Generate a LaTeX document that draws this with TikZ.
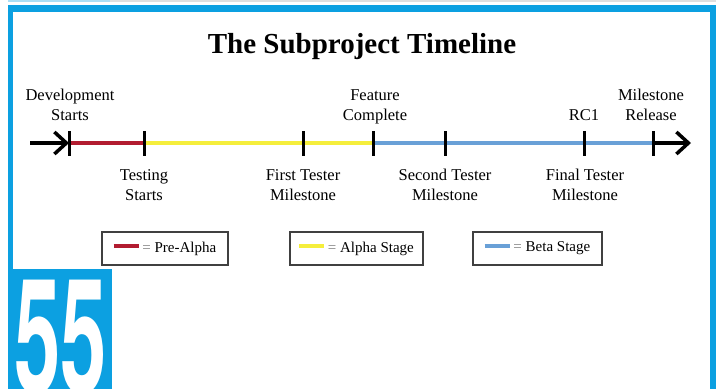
\documentclass[tikz,border=0pt]{standalone}
\usepackage{fontspec}
\setmainfont{Liberation Serif}
\newfontfamily\numfont{TeX Gyre Heros}
\usetikzlibrary{arrows.meta}
\definecolor{frameblue}{RGB}{12,160,225}
\definecolor{prered}{RGB}{178,28,48}
\definecolor{alphayellow}{RGB}{245,238,60}
\definecolor{betablue}{RGB}{105,160,215}
\begin{document}
\begin{tikzpicture}[x=1pt,y=-1pt,
  lbl/.style={align=center, font=\fontsize{16.5}{20}\selectfont, inner sep=0},
  legendbox/.style={draw=black!75, line width=1.8, minimum height=33, font=\fontsize{15}{17}\selectfont, inner sep=0},
  stage/.style={line width=4},
  tick/.style={line width=3}]
\useasboundingbox (0,0) rectangle (716,389);
\fill[frameblue!35] (8,0) rectangle (110,2);
\fill[gray!25] (110,0) rectangle (716,2);
\fill[frameblue] (8,5) rectangle (716,12);
\fill[frameblue] (8,5) rectangle (13,269);
\fill[frameblue] (710,5) rectangle (716,389);
\fill[frameblue] (8,269) rectangle (112,389);
\begin{scope}
\clip (8,269) rectangle (112,389);
\node[text=white, inner sep=0, anchor=base] (num) at (61,393) {\numfont\bfseries\fontsize{160}{160}\selectfont\scalebox{0.52}[1]{55}};
\end{scope}
\node[font=\bfseries\fontsize{29}{34}\selectfont, anchor=base] (title) at (362,53) {The Subproject Timeline};
\coordinate (tail) at (30,143);
\coordinate (devstart) at (69,143);
\coordinate (teststart) at (144,143);
\coordinate (first) at (303,143);
\coordinate (feature) at (373,143);
\coordinate (second) at (445,143);
\coordinate (rc) at (584,143);
\coordinate (release) at (653,143);
\coordinate (head) at (691,143);
\draw[stage, prered] (devstart) -- (teststart);
\draw[stage, alphayellow] (teststart) -- (feature);
\draw[stage, betablue] (feature) -- (release);
\draw[line width=3.5, -{Straight Barb[length=12pt,width=22pt]}] (tail) -- (devstart);
\draw[line width=3.5, -{Straight Barb[length=12pt,width=22pt]}] (release) -- (head);
\foreach \p in {devstart,teststart,first,feature,second,rc,release}
  \draw[tick] ([yshift=12pt]\p) -- ([yshift=-13pt]\p);
\node[lbl, anchor=south] (devlbl) at (70,127) {Development\\Starts\strut};
\node[lbl, anchor=south] (featlbl) at (375,127) {Feature\\Complete\strut};
\node[lbl, anchor=south] (rclbl) at (584,127) {RC1\strut};
\node[lbl, anchor=south] (rellbl) at (651,127) {Milestone\\Release\strut};
\node[lbl, anchor=north] (testlbl) at (144,169) {Testing\\Starts};
\node[lbl, anchor=north] (firstlbl) at (303,169) {First Tester\\Milestone};
\node[lbl, anchor=north] (secondlbl) at (445,169) {Second Tester\\Milestone};
\node[lbl, anchor=north] (finallbl) at (585,169) {Final Tester\\Milestone};
\node[legendbox, minimum width=126] (prebox) at (165,248.5) {\textcolor{prered}{\rule[4pt]{25pt}{4pt}} {\color{gray}=} Pre-Alpha};
\node[legendbox, minimum width=133] (alphabox) at (356.5,248.5) {\textcolor{alphayellow}{\rule[4pt]{25pt}{4pt}} {\color{gray}=} Alpha Stage};
\node[legendbox, minimum width=129] (betabox) at (537.5,248.5) {\textcolor{betablue}{\rule[4pt]{25pt}{4pt}} {\color{gray}=} Beta Stage};
\end{tikzpicture}
\end{document}
